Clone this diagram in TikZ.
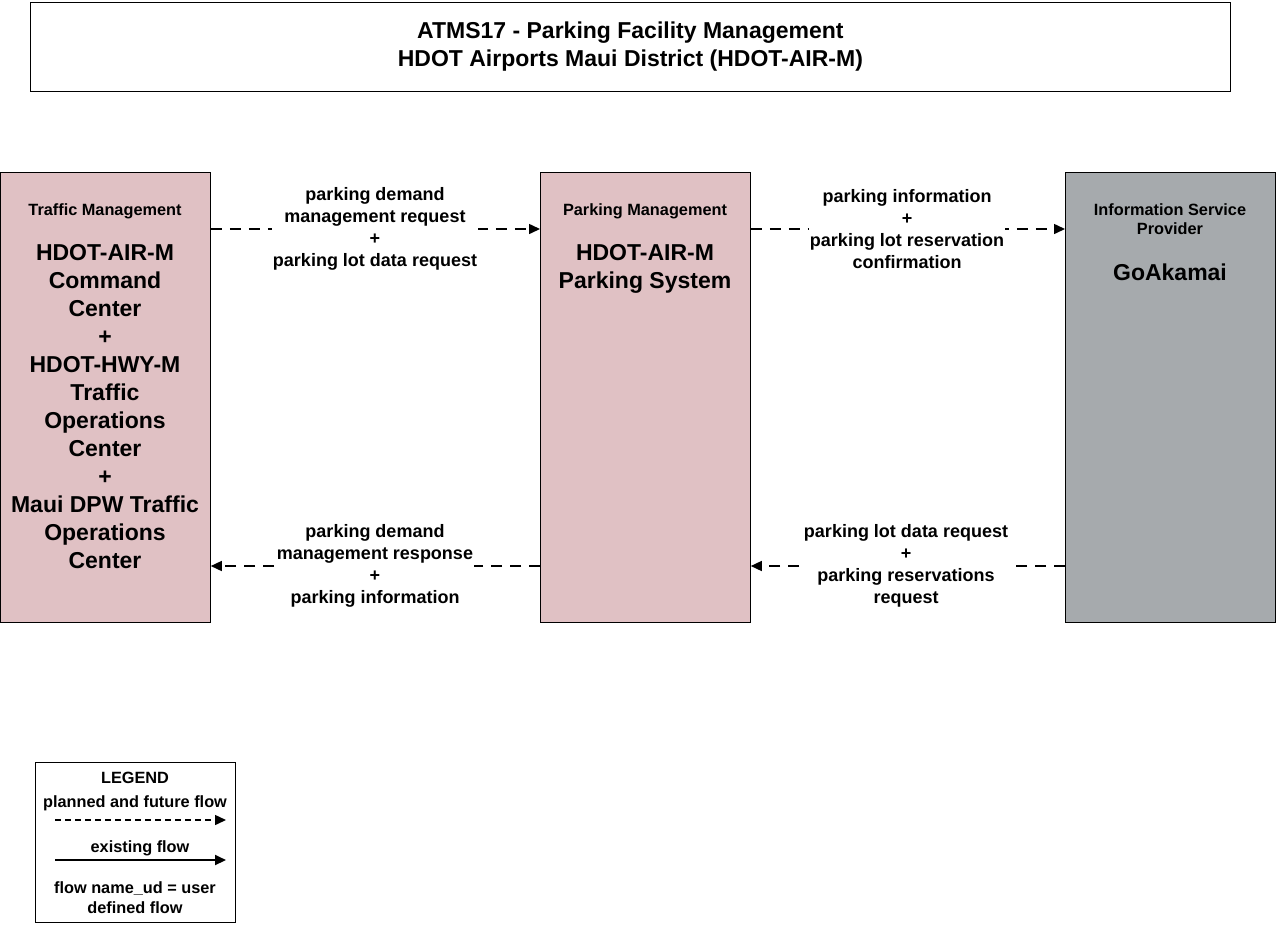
\documentclass[tikz,border=0pt]{standalone}
\usepackage{fontspec}
\setmainfont{Liberation Sans}
\usetikzlibrary{arrows.meta,backgrounds}
\definecolor{pmpink}{RGB}{224,193,196}
\definecolor{ispgray}{RGB}{166,170,173}
\tikzset{
  elem/.style={draw=black, line width=0.8pt, minimum width=210pt, minimum height=450pt, anchor=north west, inner sep=0pt},
  cat/.style={font=\fontsize{16.3}{19.5}\selectfont\bfseries, align=center, anchor=north, inner sep=0pt},
  big/.style={font=\fontsize{23}{28}\selectfont\bfseries, align=center, anchor=north, inner sep=0pt},
  flowlbl/.style={font=\fontsize{18}{22}\selectfont\bfseries, align=center, fill=white, inner sep=1pt},
  flow/.style={line width=1.5pt, dash pattern=on 11pt off 8pt, -{Triangle[length=11pt,width=10pt]}},
  lgd/.style={font=\fontsize{16.3}{20}\selectfont\bfseries, align=center, inner sep=0pt}
}
\begin{document}
\begin{tikzpicture}[x=1pt,y=-1pt]
\useasboundingbox (0,0) rectangle (1276,924);

% title
\node[draw=black, line width=0.8pt, minimum width=1200pt, minimum height=89pt, anchor=north west,
  font=\fontsize{23}{28}\selectfont\bfseries, align=center] (title) at (30,1.5)
  {ATMS17 - Parking Facility Management\\HDOT Airports Maui District (HDOT-AIR-M)};

% elements
\node[elem, fill=pmpink] (tm) at (0,172) {};
\node[elem, fill=pmpink] (pm) at (540,172) {};
\node[elem, fill=ispgray] (isp) at (1065,172) {};

\node[cat] (tmcat) at (105,203) {Traffic Management};
\node[big] (tmname) at (105,244) {HDOT-AIR-M\\Command\\Center\\+\\HDOT-HWY-M\\Traffic\\Operations\\Center\\+\\Maui DPW Traffic\\Operations\\Center};

\node[cat] (pmcat) at (645,203) {Parking Management};
\node[big] (pmname) at (645,244) {HDOT-AIR-M\\Parking System};

\node[cat] (ispcat) at (1170,203) {Information Service\\Provider};
\node[big] (ispname) at (1170,264) {GoAkamai};

% flows
\node[flowlbl] (f1) at (375,229) {parking demand\\management request\\+\\parking lot data request};
\node[flowlbl] (f2) at (907,229) {parking information\\+\\parking lot reservation\\confirmation};
\node[flowlbl] (f3) at (375,566) {parking demand\\management response\\+\\parking information};
\node[flowlbl] (f4) at (906,566) {parking lot data request\\+\\parking reservations\\request};

\begin{scope}[on background layer]
\fill[white] (0,0) rectangle (1276,924);
\draw[flow] (tm.east |- f1) -- (pm.west |- f1);
\draw[flow] (pm.east |- f2) -- (isp.west |- f2);
\draw[flow] (pm.west |- f3) -- (tm.east |- f3);
\draw[flow] (isp.west |- f4) -- (pm.east |- f4);
\end{scope}

% legend
\node[draw=black, line width=1.4pt, minimum width=200pt, minimum height=160pt, anchor=north west] (legend) at (35,762) {};
\node[lgd] (lgdtitle) at (135,778) {LEGEND};
\node[lgd] (lgdplan) at (135,803) {planned and future flow};
\coordinate (p1) at (55,820);
\coordinate (p2) at (226,820);
\draw[line width=1.5pt, dash pattern=on 6pt off 4pt, -{Triangle[length=11pt,width=10pt]}] (p1) -- (p2);
\node[lgd] (lgdexist) at (140,848) {existing flow};
\coordinate (e1) at (55,860);
\coordinate (e2) at (226,860);
\draw[line width=2pt, -{Triangle[length=11pt,width=10pt]}] (e1) -- (e2);
\node[lgd] (lgdud) at (135,898) {flow name\_ud = user\\defined flow};
\end{tikzpicture}
\end{document}
